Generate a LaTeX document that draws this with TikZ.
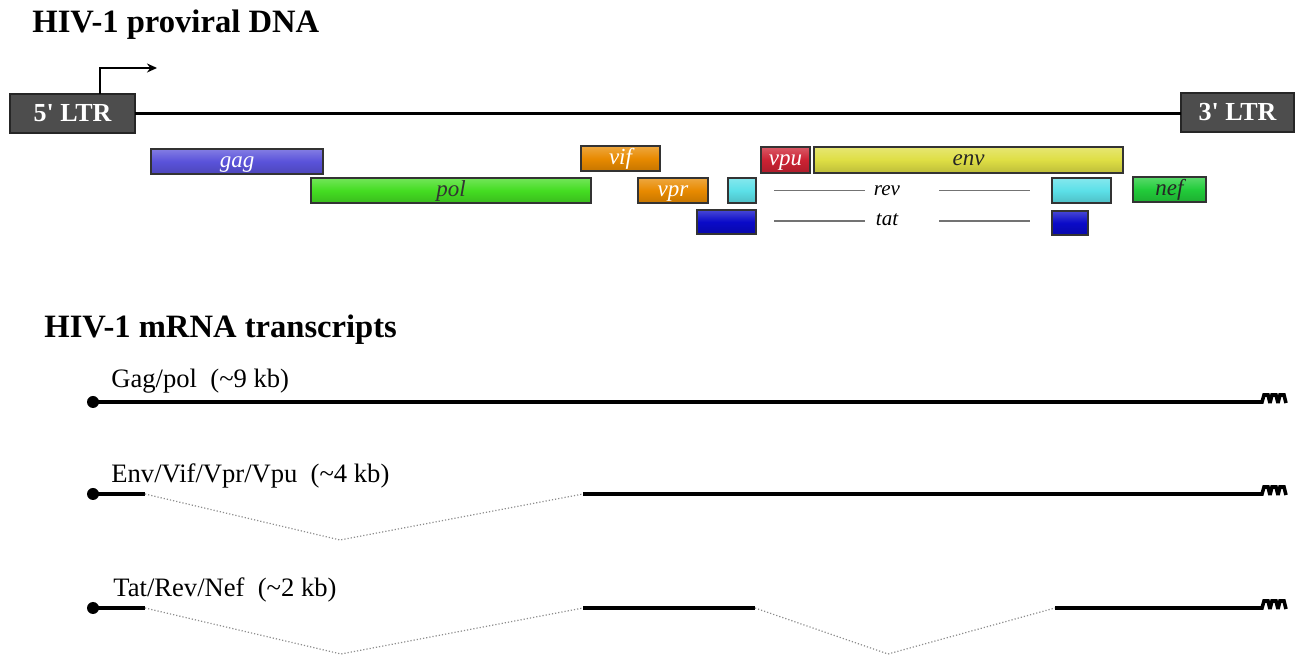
\documentclass[tikz,border=0pt]{standalone}
\usepackage{fontspec}
\setmainfont{Liberation Serif}
\usetikzlibrary{arrows.meta}

\definecolor{ltrgray}{HTML}{4D4D4D}
\definecolor{gagc}{HTML}{5A52DA}
\definecolor{polc}{HTML}{44DD22}
\definecolor{vifc}{HTML}{E88A00}
\definecolor{vpuc}{HTML}{CC2233}
\definecolor{envc}{HTML}{DEDE44}
\definecolor{revc}{HTML}{5CE0E8}
\definecolor{tatc}{HTML}{0A0AC8}
\definecolor{nefc}{HTML}{22CC3A}

\begin{document}
\begin{tikzpicture}[x=0.5pt,y=-0.5pt,
  ltrbox/.style={draw=black!85, fill=ltrgray, text=white, line width=0.6pt,
    font=\fontsize{13}{13}\selectfont\bfseries, inner sep=0pt, outer sep=0pt,
    anchor=north west, minimum height=19.5pt},
  genebox/.style={draw=black!80, line width=0.7pt, inner sep=0pt, outer sep=0pt,
    anchor=north west, minimum height=12.5pt, text height=1.6ex, text depth=0.4ex,
    font=\fontsize{11.5}{11.5}\selectfont\itshape},
  shadefill/.style={top color=#1!75!white, bottom color=#1!85!black, middle color=#1},
  title/.style={anchor=base west, font=\fontsize{16.3}{16.3}\selectfont\bfseries, inner sep=0pt},
  trlabel/.style={anchor=base west, font=\fontsize{13.3}{13.3}\selectfont, inner sep=0pt},
  smalllabel/.style={font=\fontsize{10.5}{10.5}\selectfont\itshape, inner sep=0pt,
    text height=1.5ex, text depth=0.5ex},
  dnaline/.style={line width=1.5pt},
  thinline/.style={draw=black!55, line width=0.6pt},
  mrna/.style={line width=2pt},
  intron/.style={draw=black!45, line width=0.6pt, densely dotted},
  capdot/.style={circle, fill=black, inner sep=0pt, minimum size=6pt},
  polyatail/.pic={
    \draw[line width=1.8pt, line join=miter, miter limit=4] (0,0) -- ++(3,0)
      -- ++(2,-7) -- ++(4,0) -- ++(2,8) -- ++(2,-8) -- ++(4,0) -- ++(2,8)
      -- ++(2,-8) -- ++(4,0) -- ++(2,8);
  }]
\useasboundingbox (0,0) rectangle (1295,656);

% ---------- proviral DNA ----------
\node[title] (t1) at (32,33) {HIV-1 proviral DNA};

\node[ltrbox, minimum width=62.5pt] (ltr5) at (10,94) {5\textquotesingle{} LTR};
\node[ltrbox, minimum width=56.5pt] (ltr3) at (1181,93) {3\textquotesingle{} LTR};
\draw[dnaline] (ltr5.east) -- (ltr5.east -| ltr3.west);

% transcription start arrow
\coordinate (tss) at (ltr5.north -| 100,0);
\coordinate (tssend) at (157,68);
\draw[line width=0.8pt, -{Stealth[length=5pt,width=4.5pt]}] (tss) |- (tssend);

% open reading frames
\node[genebox, shadefill=gagc, minimum width=86pt, text=white] (gag) at (151,149) {gag};
\node[genebox, shadefill=polc, minimum width=140pt, text=black!80] (pol) at (311,178) {pol};
\node[genebox, shadefill=vifc, minimum width=39.5pt, text=white] (vif) at (581,146) {vif};
\node[genebox, shadefill=vifc, minimum width=35pt, text=white] (vpr) at (638,178) {vpr};
\node[genebox, shadefill=vpuc, minimum width=24.5pt, minimum height=13pt, text=white] (vpu) at (761,147) {vpu};
\node[genebox, shadefill=envc, minimum width=154.5pt, minimum height=13pt, text=black!85] (env) at (814,147) {env};
\node[genebox, shadefill=revc, minimum width=14pt] (rev1) at (728,178) {};
\node[genebox, shadefill=revc, minimum width=29.5pt] (rev2) at (1052,178) {};
\node[genebox, shadefill=tatc, minimum width=29.5pt, minimum height=12pt] (tat1) at (697,210) {};
\node[genebox, shadefill=tatc, minimum width=18pt, minimum height=12pt] (tat2) at (1052,211) {};
\node[genebox, shadefill=nefc, minimum width=36.5pt, text=black!85] (nef) at (1133,177) {nef};

% spliced genes
\node[smalllabel] (revlbl) at (887,190.5) {rev};
\node[smalllabel] (tatlbl) at (887,221) {tat};
\draw[thinline, shorten <=9pt, shorten >=4.3pt] (rev1.east) -- (revlbl.west);
\draw[thinline, shorten <=19.3pt, shorten >=11pt] (revlbl.east) -- (revlbl -| rev2.west);
\draw[thinline, shorten <=9pt, shorten >=5.5pt] (tatlbl -| tat1.east) -- (tatlbl.west);
\draw[thinline, shorten <=20.5pt, shorten >=11pt] (tatlbl.east) -- (tatlbl -| tat2.west);

% ---------- mRNA transcripts ----------
\node[title] (t2) at (44,338) {HIV-1 mRNA transcripts};

% unspliced
\node[trlabel] (l1) at (111,388) {Gag/pol\ \ (\textasciitilde9 kb)};
\node[capdot] (d1) at (93,402) {};
\coordinate (e1) at (1259,402);
\draw[mrna] (d1.center) -- (e1);
\pic at (e1) {polyatail};

% singly spliced
\node[trlabel] (l2) at (111,483) {Env/Vif/Vpr/Vpu\ \ (\textasciitilde4 kb)};
\node[capdot] (d2) at (93,494) {};
\coordinate (a2) at (145,494);
\coordinate (v2) at (340,540);
\coordinate (b2) at (583,494);
\coordinate (e2) at (1259,494);
\draw[mrna] (d2.center) -- (a2);
\draw[intron] (a2) -- (v2) -- (b2);
\draw[mrna] (b2) -- (e2);
\pic at (e2) {polyatail};

% multiply spliced
\node[trlabel] (l3) at (113,597) {Tat/Rev/Nef\ \ (\textasciitilde2 kb)};
\node[capdot] (d3) at (93,608) {};
\coordinate (a3) at (145,608);
\coordinate (v3) at (341,654);
\coordinate (b3) at (583,608);
\coordinate (c3) at (755,608);
\coordinate (w3) at (888,654);
\coordinate (f3) at (1055,608);
\coordinate (e3) at (1259,608);
\draw[mrna] (d3.center) -- (a3);
\draw[intron] (a3) -- (v3) -- (b3);
\draw[mrna] (b3) -- (c3);
\draw[intron] (c3) -- (w3) -- (f3);
\draw[mrna] (f3) -- (e3);
\pic at (e3) {polyatail};
\end{tikzpicture}
\end{document}
